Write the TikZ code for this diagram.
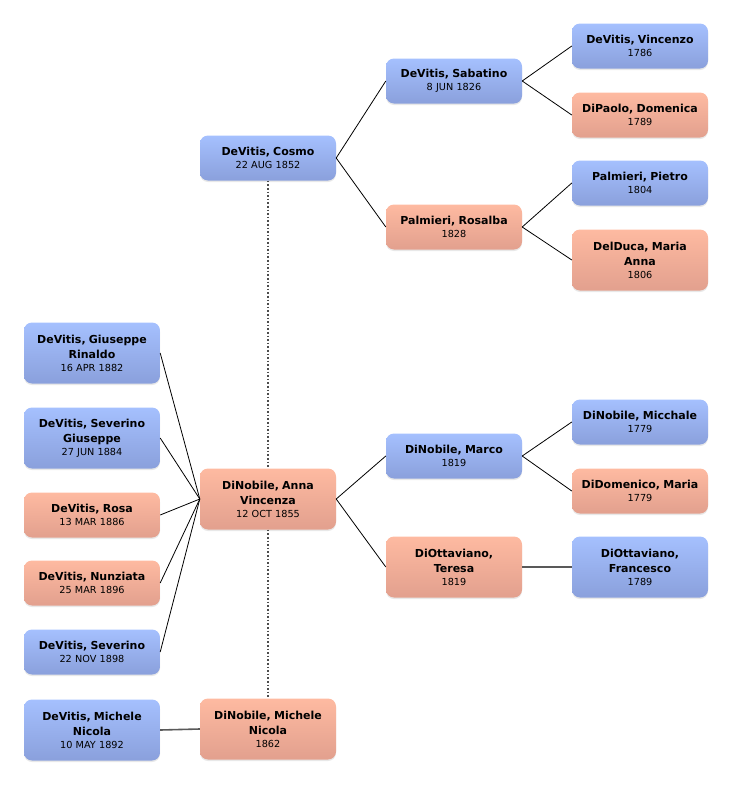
\documentclass[tikz,border=0pt]{standalone}
\usepackage{fontspec}
\setmainfont{DejaVu Sans}
\usetikzlibrary{shadows}
\definecolor{maletop}{HTML}{A5C0FE}
\definecolor{malebot}{HTML}{8AA0DC}
\definecolor{femtop}{HTML}{FEBAA1}
\definecolor{fembot}{HTML}{E2A08E}
\newcommand{\nm}[1]{{\fontsize{11}{15}\selectfont\bfseries #1}}
\begin{document}
\begin{tikzpicture}[x=1pt, y=-1pt,
    person/.style={rectangle, rounded corners=8pt, inner sep=0pt,
      minimum width=136pt, minimum height=45pt, text width=134pt, align=center,
      font=\fontsize{9.7}{13}\selectfont,
      drop shadow={opacity=0.18, shadow xshift=0pt, shadow yshift=-1.5pt}},
    tall/.style={minimum height=61pt},
    male/.style={person, top color=maletop, bottom color=malebot},
    female/.style={person, top color=femtop, bottom color=fembot},
    link/.style={black, line width=0.8pt},
    spouse/.style={black!65, line width=1.6pt},
    marriage/.style={black!70, dotted, line width=1.6pt}]
    \useasboundingbox (0,0) rectangle (732,785);

    % Geracao dos pais
    \node[male] (cosmo) at (268,158) {\nm{DeVitis, Cosmo}\\22 AUG 1852};
    \node[female, tall] (anna) at (268,499) {\nm{DiNobile, Anna}\\[2pt]\nm{Vincenza}\\12 OCT 1855};
    \node[female, tall] (dmichele) at (268,729) {\nm{DiNobile, Michele}\\[2pt]\nm{Nicola}\\1862};

    % Linha pontilhada entre os pais (passa por tras da caixa da mae)
    \draw[marriage] (cosmo.south) -- (anna.north);
    \draw[marriage] (anna.south) -- (dmichele.north);

    % Avos
    \node[male] (sabatino) at (454,81) {\nm{DeVitis, Sabatino}\\8 JUN 1826};
    \node[female] (rosalba) at (454,227) {\nm{Palmieri, Rosalba}\\1828};
    \node[male] (marco) at (454,456) {\nm{DiNobile, Marco}\\1819};
    \node[female, tall] (teresa) at (454,567) {\nm{DiOttaviano,}\\[2pt]\nm{Teresa}\\1819};

    % Bisavos
    \node[male] (vincenzo) at (640,46) {\nm{DeVitis, Vincenzo}\\1786};
    \node[female] (domenica) at (640,115) {\nm{DiPaolo, Domenica}\\1789};
    \node[male] (pietro) at (640,183) {\nm{Palmieri, Pietro}\\1804};
    \node[female, tall] (mariaanna) at (640,260) {\nm{DelDuca, Maria}\\[2pt]\nm{Anna}\\1806};
    \node[male] (micchale) at (640,422) {\nm{DiNobile, Micchale}\\1779};
    \node[female] (didomenico) at (640,491) {\nm{DiDomenico, Maria}\\1779};
    \node[male, tall] (francesco) at (640,567) {\nm{DiOttaviano,}\\[2pt]\nm{Francesco}\\1789};

    % Filhos
    \node[male, tall] (giuseppe) at (92,353) {\nm{DeVitis, Giuseppe}\\[2pt]\nm{Rinaldo}\\16 APR 1882};
    \node[male, tall] (severinog) at (92,438) {\nm{DeVitis, Severino}\\[2pt]\nm{Giuseppe}\\27 JUN 1884};
    \node[female] (rosa) at (92,515) {\nm{DeVitis, Rosa}\\13 MAR 1886};
    \node[female] (nunziata) at (92,583) {\nm{DeVitis, Nunziata}\\25 MAR 1896};
    \node[male] (severino) at (92,652) {\nm{DeVitis, Severino}\\22 NOV 1898};
    \node[male, tall] (vmichele) at (92,730) {\nm{DeVitis, Michele}\\[2pt]\nm{Nicola}\\10 MAY 1892};

    % Ligacoes com os pais
    \draw[link] (cosmo.east) -- (sabatino.west);
    \draw[link] (cosmo.east) -- (rosalba.west);
    \draw[link] (sabatino.east) -- (vincenzo.west);
    \draw[link] (sabatino.east) -- (domenica.west);
    \draw[link] (rosalba.east) -- (pietro.west);
    \draw[link] (rosalba.east) -- (mariaanna.west);
    \draw[link] (anna.east) -- (marco.west);
    \draw[link] (anna.east) -- (teresa.west);
    \draw[link] (marco.east) -- (micchale.west);
    \draw[link] (marco.east) -- (didomenico.west);
    \draw[spouse] (teresa.east) -- (francesco.west);

    % Filhos ligados a mae
    \foreach \kid in {giuseppe, severinog, rosa, nunziata, severino}
      \draw[link] (\kid.east) -- (anna.west);
    \draw[spouse] (vmichele.east) -- (dmichele.west);
  \end{tikzpicture}
\end{document}
